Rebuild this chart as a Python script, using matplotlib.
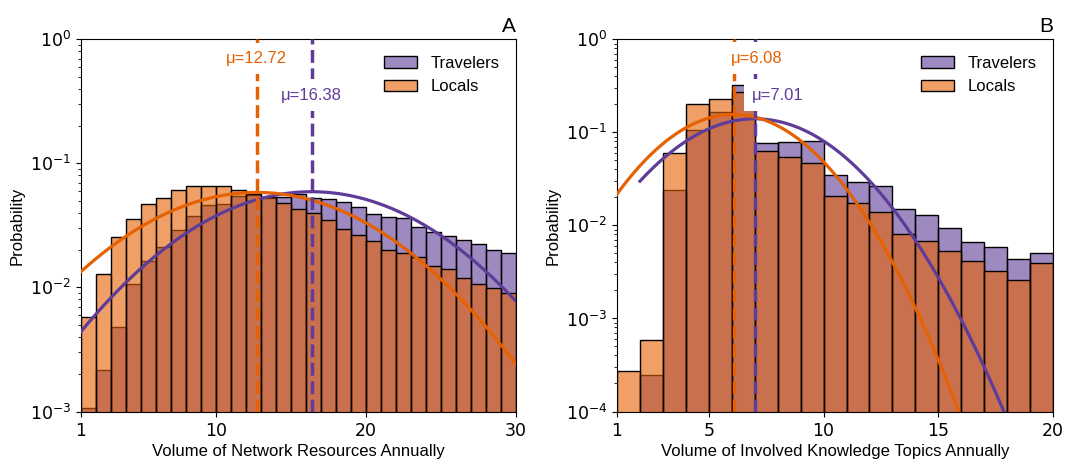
import numpy as np
import matplotlib
matplotlib.use("Agg")
import matplotlib.pyplot as plt
from matplotlib.patches import Patch

plt.rcParams['font.family'] = ['Liberation Sans', 'DejaVu Sans']
plt.rcParams['font.size'] = 12

# Panel A: yearly volume of network resources (bins of width 1, 1..30)
a_bins = np.arange(1, 31)
a_travelers = [0.00107, 0.00218, 0.00481, 0.01063, 0.0164, 0.0211, 0.0288,
               0.0374, 0.0458, 0.0470, 0.0542, 0.0555, 0.0530, 0.0538,
               0.0565, 0.0522, 0.0513, 0.0488, 0.0442, 0.0390, 0.0367,
               0.0364, 0.0308, 0.0279, 0.0259, 0.0239, 0.0222, 0.0201, 0.0188]
a_locals = [0.00573, 0.0129, 0.0256, 0.0357, 0.0470, 0.0525, 0.0612, 0.0656,
            0.0656, 0.0660, 0.0612, 0.0569, 0.0532, 0.0481, 0.0426, 0.0397,
            0.0351, 0.0297, 0.0267, 0.0236, 0.0202, 0.0190, 0.0175, 0.0150,
            0.0141, 0.0120, 0.01057, 0.00981, 0.00906]
a_mu = {'Travelers': 16.38, 'Locals': 12.72}
a_sigma = {'Travelers': 6.75, 'Locals': 6.84}
a_fit_start = {'Travelers': 1, 'Locals': 1}

# Panel B: yearly volume of involved knowledge topics (bins of width 1, 1..20)
b_bins = np.arange(1, 21)
b_travelers = [0.0, 0.000246, 0.0238, 0.106, 0.167, 0.325, 0.0762, 0.0787,
               0.0813, 0.0347, 0.0290, 0.0265, 0.0150, 0.0128, 0.00927,
               0.00667, 0.00589, 0.00431, 0.00508]
b_locals = [0.000273, 0.000594, 0.0604, 0.200, 0.228, 0.273, 0.0629, 0.0547,
            0.0464, 0.0207, 0.0172, 0.0140, 0.00806, 0.00678, 0.00529,
            0.00413, 0.00325, 0.00258, 0.0039]
b_mu = {'Travelers': 7.01, 'Locals': 6.08}
b_sigma = {'Travelers': 2.85, 'Locals': 2.56}
b_fit_start = {'Travelers': 2, 'Locals': 1}

COLORS = {'Travelers': '#5e3c99', 'Locals': '#e66101'}
ALPHA = 0.6


def face(color):
    rgba = list(matplotlib.colors.to_rgba(color))
    rgba[3] = ALPHA
    return tuple(rgba)


def draw_panel(ax, bins, series, mu, sigma, fit_start, ylim, xticks,
               xlabel, letter, label_y, label_dx):
    widths = np.diff(bins)
    for name, vals in series:
        ax.bar(bins[:-1], vals, width=widths, align='edge',
               facecolor=face(COLORS[name]), edgecolor='black',
               linewidth=1.0, zorder=1)

    # fitted normal curves
    for name, _ in series:
        xs = np.linspace(fit_start[name], bins[-1], 400)
        pdf = np.exp(-(xs - mu[name]) ** 2 / (2 * sigma[name] ** 2)) \
            / (sigma[name] * np.sqrt(2 * np.pi))
        ax.plot(xs, pdf, color=COLORS[name], lw=2.3, zorder=3)

    # mean markers
    for name, _ in series:
        ax.axvline(mu[name], color=COLORS[name], ls='--', lw=2.5, zorder=4)
        ax.text(mu[name] + label_dx, label_y[name], f"μ={mu[name]:.2f}",
                color=COLORS[name], ha='center', va='center', fontsize=12,
                zorder=5,
                bbox=dict(facecolor='white', edgecolor='none', pad=6))

    ax.set_yscale('log')
    ax.set_ylim(*ylim)
    ax.set_xlim(bins[0], bins[-1])
    ax.set_xticks(xticks)
    ax.set_xticklabels([str(t) for t in xticks])
    for lbl in ax.get_xticklabels() + ax.get_yticklabels():
        lbl.set_fontfamily('DejaVu Sans')
        lbl.set_fontsize(12.5)
    ax.tick_params(axis='x', pad=4)
    ax.set_xlabel(xlabel, labelpad=3)
    ax.set_ylabel('Probability', labelpad=4)
    ax.text(1.0, 1.01, letter, transform=ax.transAxes, ha='right',
            va='bottom', fontsize=15)

    handles = [Patch(facecolor=face(COLORS[n]), edgecolor='black', label=n)
               for n, _ in series]
    ax.legend(handles=handles, loc='upper right', frameon=False,
              fontsize=12, borderaxespad=0.6)


fig = plt.figure(figsize=(10.72, 4.62), dpi=100)
ax_a = fig.add_axes([0.0756, 0.1093, 0.4058, 0.8056])
ax_b = fig.add_axes([0.5756, 0.1093, 0.4067, 0.8056])

draw_panel(ax_a, a_bins,
           [('Travelers', a_travelers), ('Locals', a_locals)],
           a_mu, a_sigma, a_fit_start, (1e-3, 1), [1, 10, 20, 30],
           'Volume of Network Resources Annually', 'A',
           {'Travelers': 0.355, 'Locals': 0.70}, 0.0)

draw_panel(ax_b, b_bins,
           [('Travelers', b_travelers), ('Locals', b_locals)],
           b_mu, b_sigma, b_fit_start, (1e-4, 1), [1, 5, 10, 15, 20],
           'Volume of Involved Knowledge Topics Annually', 'B',
           {'Travelers': 0.252, 'Locals': 0.625}, 1.0)

fig.savefig('out.png', dpi=100)
